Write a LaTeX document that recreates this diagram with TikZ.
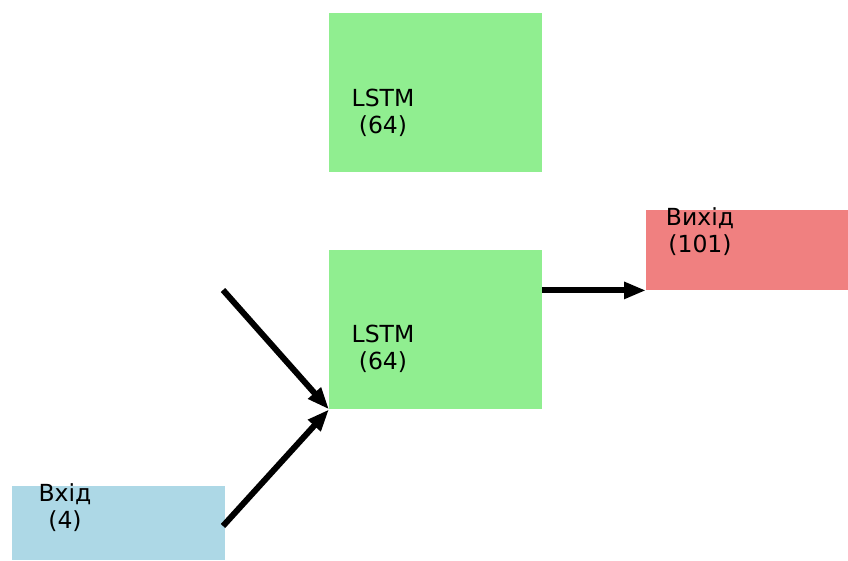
\documentclass[tikz,border=0pt]{standalone}
\usepackage{fontspec}
\setmainfont{DejaVu Sans}
\usetikzlibrary{arrows.meta}
\definecolor{lstmgreen}{HTML}{90EE90}
\definecolor{outred}{HTML}{F08080}
\definecolor{inblue}{HTML}{ADD8E6}
\begin{document}
\begin{tikzpicture}[x=1pt,y=-1pt,
    layer/.style={draw=none,inner sep=0pt,anchor=north west},
    lbl/.style={inner sep=0pt,align=center,font=\fontsize{23.5}{27}\selectfont},
    flow/.style={line width=6pt,-{Triangle[length=22pt,width=16pt]}}]
  \useasboundingbox (0,0) rectangle (848,560);
  % layers
  \node[layer,fill=lstmgreen,minimum width=213pt,minimum height=159pt] (lstm1) at (329,13) {};
  \node[layer,fill=lstmgreen,minimum width=213pt,minimum height=159pt] (lstm2) at (329,250) {};
  \node[layer,fill=outred,minimum width=202pt,minimum height=80pt] (out) at (646,210) {};
  \node[layer,fill=inblue,minimum width=213pt,minimum height=74pt] (in) at (12,486) {};
  % labels
  \node[lbl] (lstm1txt) at (383,113) {LSTM\\(64)};
  \node[lbl] (lstm2txt) at (383,349) {LSTM\\(64)};
  \node[lbl] (outtxt) at (700,232) {Вихід\\(101)};
  \node[lbl] (intxt) at (65,508) {Вхід\\(4)};
  % connections
  \coordinate (rec) at (223,290);
  \coordinate (src) at (223,526);
  \draw[flow] (rec) -- (lstm2.south west);
  \draw[flow] (src) -- (lstm2.south west);
  \draw[flow] (lstm2.east |- out.south) -- (out.south west);
\end{tikzpicture}
\end{document}
